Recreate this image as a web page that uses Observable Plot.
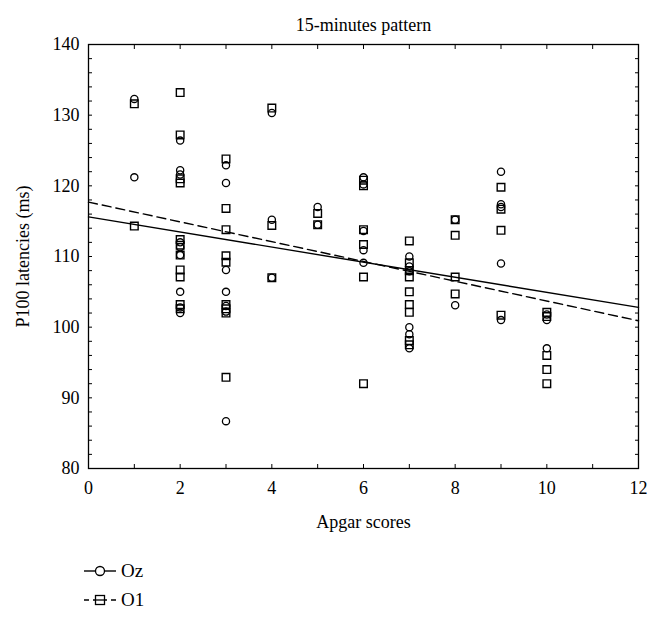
<!DOCTYPE html>
<html><head><meta charset="utf-8">
<script src="https://cdn.jsdelivr.net/npm/d3@7"></script>
<script src="https://cdn.jsdelivr.net/npm/@observablehq/plot@0.6"></script>
<style>
body{margin:0;background:#fff;font-family:"Liberation Serif",serif;color:#000;}
#legend{padding-top:11px;padding-left:84px;}
.row{display:flex;align-items:center;height:29px;font-size:19px;}
.row svg{margin-right:5px;}
</style></head><body>
<div id="chart"></div>
<div id="legend"></div>
<script>
const title = "15-minutes pattern";
const xLabel = "Apgar scores";
const yLabel = "P100 latencies (ms)";
const seriesNames = ["Oz", "O1"];
const xTicks = [0, 2, 4, 6, 8, 10, 12];
const yTicks = [80, 90, 100, 110, 120, 130, 140];

// Oz (circles)
const ozApgar = [1,1, 2,2,2,2,2,2,2,2,2, 3,3,3,3,3,3,3, 4,4,4, 5,5, 6,6,6,6,6, 7,7,7,7,7,7, 8,8, 9,9,9,9,9, 10,10,10];
const ozLatency = [132.3,121.2, 126.4,122.2,121.6,112.0,111.3,110.2,105.0,102.8,102.0, 122.9,120.4,108.1,105.0,103.0,102.2,86.7, 130.3,115.2,107.0, 117.0,114.5, 121.2,120.2,113.6,110.9,109.1, 110.0,108.6,107.9,100.0,99.0,97.0, 115.2,103.1, 122.0,117.4,117.0,109.0,101.0, 101.8,101.0,97.0];

// O1 (squares)
const o1Apgar = [1,1, 2,2,2,2,2,2,2,2,2,2,2, 3,3,3,3,3,3,3,3,3, 4,4,4, 5,5, 6,6,6,6,6,6, 7,7,7,7,7,7,7,7,7, 8,8,8,8, 9,9,9,9, 10,10,10,10,10];
const o1Latency = [131.6,114.3, 133.2,127.2,121.0,120.4,112.4,111.6,110.2,108.1,107.1,103.2,102.6, 123.8,116.8,113.8,110.1,109.2,103.2,102.6,102.0,92.9, 131.0,114.4,107.0, 116.1,114.5, 120.8,120.0,113.8,111.7,107.1,92.0, 112.2,109.1,108.0,107.1,105.0,103.2,102.1,98.1,97.5, 115.2,113.0,107.1,104.7, 119.8,116.7,113.7,101.7, 102.1,101.5,96.0,94.0,92.0];

// fitted lines (at x = 0 and x = 12)
const fitX = [0, 12];
const fitOz = [115.6, 102.8];
const fitO1 = [117.7, 100.9];

const oz = ozApgar.map((a, i) => ({x: a, y: ozLatency[i]}));
const o1 = o1Apgar.map((a, i) => ({x: a, y: o1Latency[i]}));
const lineOz = fitX.map((a, i) => ({x: a, y: fitOz[i]}));
const lineO1 = fitX.map((a, i) => ({x: a, y: fitO1[i]}));

const font = "Liberation Serif";
const blank = () => "";

const chart = Plot.plot({
  width: 661, height: 545,
  marginLeft: 88, marginRight: 23, marginTop: 44, marginBottom: 77,
  style: {fontFamily: font, fontSize: "19px", color: "#000", background: "#fff"},
  x: {domain: [0, 12]},
  y: {domain: [80, 140]},
  marks: [
    Plot.axisX({ticks: xTicks, tickSize: 0, tickPadding: 13, fontSize: 18, label: xLabel, labelAnchor: "center", labelArrow: "none", labelOffset: 59}),
    Plot.axisX({ticks: d3.range(0, 13, 1), tickSize: -4, tickFormat: blank, label: null}),
    Plot.axisX({anchor: "top", ticks: d3.range(0, 13, 1), tickSize: -4, tickFormat: blank, label: null}),
    Plot.axisY({ticks: yTicks, tickSize: 0, tickPadding: 9, fontSize: 18, label: yLabel, labelAnchor: "center", labelArrow: "none", labelOffset: 72}),
    Plot.axisY({ticks: d3.range(80, 141, 2), tickSize: -4, tickFormat: blank, label: null}),
    Plot.axisY({anchor: "right", ticks: d3.range(80, 141, 2), tickSize: -4, tickFormat: blank, label: null}),
    Plot.frame({stroke: "#000", strokeWidth: 1.3}),
    Plot.line(lineOz, {x: "x", y: "y", stroke: "#000", strokeWidth: 1.4}),
    Plot.line(lineO1, {x: "x", y: "y", stroke: "#000", strokeWidth: 1.4, strokeDasharray: "9,5"}),
    Plot.dot(o1, {x: "x", y: "y", symbol: "square", r: 4.3, stroke: "#000", strokeWidth: 1.4, fill: "none"}),
    Plot.dot(oz, {x: "x", y: "y", symbol: "circle", r: 3.6, stroke: "#000", strokeWidth: 1.3, fill: "none"}),
    Plot.text([title], {frameAnchor: "top", dy: -26, fontSize: 18, fill: "#000"})
  ]
});
document.getElementById("chart").appendChild(chart);

// legend
const legend = d3.select("#legend");
const styles = [{dash: null, sym: "circle"}, {dash: "5,4", sym: "square"}];
seriesNames.forEach((name, i) => {
  const row = legend.append("div").attr("class", "row");
  const s = row.append("svg").attr("width", 32).attr("height", 16);
  s.append("line").attr("x1", 0).attr("x2", 32).attr("y1", 8).attr("y2", 8)
    .attr("stroke", "#000").attr("stroke-width", 1.4).attr("stroke-dasharray", styles[i].dash);
  if (styles[i].sym === "circle") {
    s.append("circle").attr("cx", 16).attr("cy", 8).attr("r", 4.5).attr("fill", "#fff").attr("stroke", "#000").attr("stroke-width", 1.3);
  } else {
    s.append("rect").attr("x", 11.5).attr("y", 3.5).attr("width", 9).attr("height", 9).attr("fill", "#fff").attr("stroke", "#000").attr("stroke-width", 1.3);
    s.append("line").attr("x1", 11.5).attr("x2", 20.5).attr("y1", 8).attr("y2", 8).attr("stroke", "#000").attr("stroke-width", 1.3);
  }
  row.append("span").text(name);
});
</script>
</body></html>
